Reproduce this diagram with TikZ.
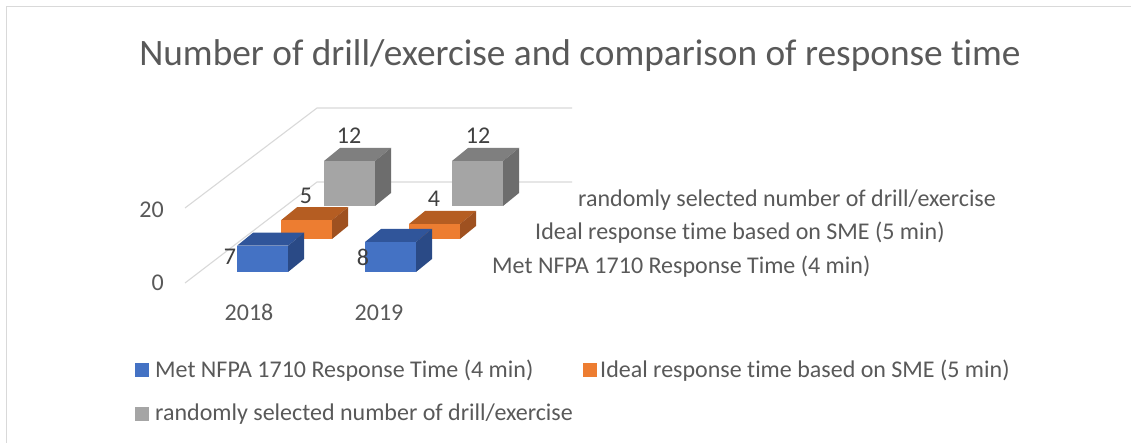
\documentclass[tikz,border=0pt]{standalone}
\usepackage{fontspec}
\setmainfont{Carlito}[Ligatures={NoCommon}]

\definecolor{framegray}{HTML}{D9D9D9}
\definecolor{gridgray}{HTML}{D9D9D9}
\definecolor{txtgray}{HTML}{595959}
\definecolor{lblgray}{HTML}{404040}
\definecolor{bluefront}{HTML}{4472C4}
\definecolor{bluetop}{HTML}{30559A}
\definecolor{blueside}{HTML}{2A4A86}
\definecolor{orangefront}{HTML}{ED7D31}
\definecolor{orangetop}{HTML}{B55D22}
\definecolor{orangeside}{HTML}{9F5120}
\definecolor{grayfront}{HTML}{A5A5A5}
\definecolor{graytop}{HTML}{7F7F7F}
\definecolor{grayside}{HTML}{6D6D6D}

% a 3-D column: front-bottom-left corner (#1,#2), height #3, colour set #4
\newcommand\drawcuboid[4]{%
  \fill[#4top] (#1,#2-#3) -- ++(16,-13) -- ++(51,0) -- ++(-16,13) -- cycle;
  \fill[#4side] (#1+51,#2) -- ++(16,-13) -- ++(0,-#3) -- ++(-16,13) -- cycle;
  \fill[#4front] (#1,#2) rectangle ++(51,-#3);
}

\begin{document}
\begin{tikzpicture}[x=1pt,y=-1pt,
  grid/.style={draw=gridgray,line width=1.1pt},
  frameline/.style={draw=framegray,line width=1.8pt},
  txt/.style={inner sep=0pt,text=txtgray,font=\fontsize{24}{24}\selectfont},
  datalbl/.style={inner sep=0pt,text=lblgray,font=\fontsize{24}{24}\selectfont,anchor=base},
  titletxt/.style={inner sep=0pt,text=txtgray,font=\fontsize{37.3}{38}\selectfont,anchor=base},
  legsq/.style={minimum size=14pt,inner sep=0pt}]
\useasboundingbox (0,0) rectangle (1131,443);
\fill[white] (0,0) rectangle (1131,443);

% chart frame
\draw[frameline] (6.5,443) -- (6.5,6.5) -- (1131,6.5);

% title
\node[titletxt] (title) at (580,66) {Number of drill/exercise and comparison of response time};

% side-wall and back-wall gridlines
\draw[grid] (185,283) -- (317,182) -- (572,182);
\draw[grid] (185,208) -- (317,108) -- (572,108);

% value axis
\node[txt,anchor=base east] (v20) at (164,217.5) {20};
\node[txt,anchor=base east] (v0) at (164,290.5) {0};

% category axis
\node[txt,anchor=base] (c2018) at (249,320.5) {2018};
\node[txt,anchor=base] (c2019) at (379,320.5) {2019};

% columns, back row first
\drawcuboid{324}{206}{45}{gray}
\drawcuboid{452}{206}{45}{gray}
\drawcuboid{281}{239}{18.75}{orange}
\drawcuboid{409}{239}{15}{orange}
\drawcuboid{237}{272}{26.25}{blue}
\drawcuboid{365}{272}{30}{blue}

% data labels
\node[datalbl] (d12a) at (349,143.5) {12};
\node[datalbl] (d12b) at (478,143.5) {12};
\node[datalbl] (d5) at (306,203.5) {5};
\node[datalbl] (d4) at (434,206.5) {4};
\node[datalbl] (d7) at (230,264.5) {7};
\node[datalbl] (d8) at (363,265.5) {8};

% series (depth) axis
\node[txt,anchor=base west] (s3) at (578,207) {randomly selected number of drill/exercise};
\node[txt,anchor=base west] (s2) at (535,240) {Ideal response time based on SME (5 min)};
\node[txt,anchor=base west] (s1) at (492,273) {Met NFPA 1710 Response Time (4 min)};

% legend
\node[legsq,fill=bluefront] (k1) at (142,370) {};
\node[txt,anchor=base west] (l1) at (155,377.5) {Met NFPA 1710 Response Time (4 min)};
\node[legsq,fill=orangefront] (k2) at (590,370) {};
\node[txt,anchor=base west] (l2) at (600,377.5) {Ideal response time based on SME (5 min)};
\node[legsq,fill=grayfront] (k3) at (142,414) {};
\node[txt,anchor=base west] (l3) at (155,420) {randomly selected number of drill/exercise};
\end{tikzpicture}
\end{document}
